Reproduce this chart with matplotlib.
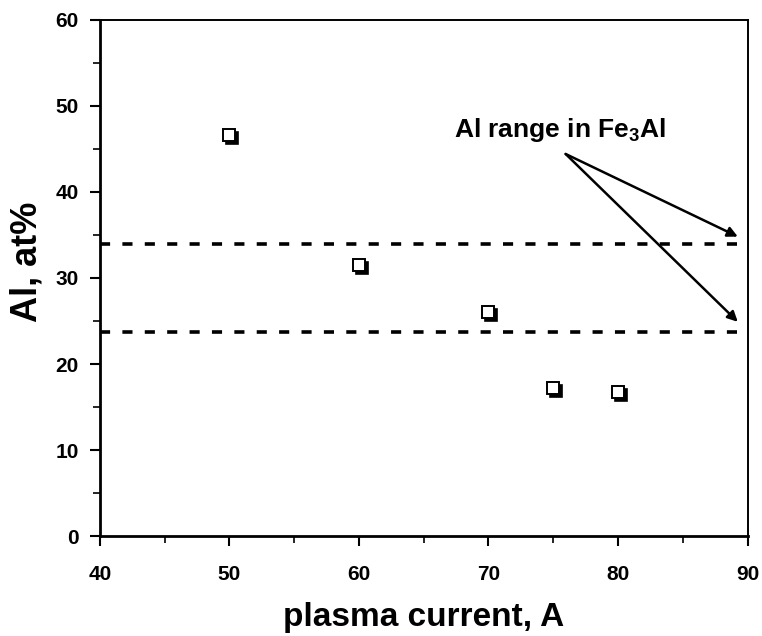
import matplotlib
matplotlib.use("Agg")
import matplotlib.pyplot as plt
import matplotlib.transforms as mtransforms
from matplotlib.ticker import MultipleLocator

plt.rcParams["font.family"] = "Liberation Sans"
plt.rcParams["font.weight"] = "bold"
plt.rcParams["mathtext.fontset"] = "custom"
plt.rcParams["mathtext.rm"] = "Liberation Sans:bold"
plt.rcParams["mathtext.bf"] = "Liberation Sans:bold"
plt.rcParams["mathtext.it"] = "Liberation Sans:bold"
plt.rcParams["mathtext.default"] = "bf"

# data
current = [50, 60, 70, 75, 80]
al_content = [46.6, 31.5, 26.0, 17.2, 16.8]
fe3al_range = [34.0, 23.7]
arrow_start = (75.96, 44.4)
arrow_ends = [(89.25, 34.8), (89.25, 24.9)]

fig = plt.figure(figsize=(7.62, 6.36), dpi=100)
ax = fig.add_axes([0.131, 0.157, 0.850, 0.812])

for y in fe3al_range:
    ax.axhline(y, color="black", linewidth=2.6, linestyle=(0, (2.8, 3.4)))

shadow = mtransforms.offset_copy(ax.transData, fig=fig, x=3, y=-3, units="dots")
ax.plot(current, al_content, linestyle="none", marker="s", markersize=9,
        markerfacecolor="black", markeredgecolor="black", markeredgewidth=1.2,
        transform=shadow)
ax.plot(current, al_content, linestyle="none", marker="s", markersize=9,
        markerfacecolor="white", markeredgecolor="black", markeredgewidth=1.4)

for end in arrow_ends:
    ax.annotate("", xy=end, xytext=arrow_start,
                arrowprops=dict(arrowstyle="-|>", color="black", lw=1.8,
                                mutation_scale=15, shrinkA=0, shrinkB=0))
ax.text(75.5, 47.2, "Al range in Fe$_3$Al", ha="center", va="center",
        fontsize=19, fontweight="bold")

ax.set_xlim(40, 90)
ax.set_ylim(0, 60)
ax.xaxis.set_major_locator(MultipleLocator(10))
ax.xaxis.set_minor_locator(MultipleLocator(5))
ax.yaxis.set_major_locator(MultipleLocator(10))
ax.yaxis.set_minor_locator(MultipleLocator(5))
ax.tick_params(which="major", length=7, width=1.5, labelsize=15)
ax.tick_params(axis="x", which="major", pad=14)
ax.tick_params(axis="y", which="major", pad=8)
ax.tick_params(which="minor", length=5, width=1.2)
for label in ax.get_xticklabels() + ax.get_yticklabels():
    label.set_fontweight("bold")
for side in ["left", "bottom"]:
    ax.spines[side].set_linewidth(2.0)
for side in ["top", "right"]:
    ax.spines[side].set_linewidth(1.4)

ax.set_xlabel("plasma current, A", fontsize=24, fontweight="bold", labelpad=13)
ax.set_ylabel("Al, at%", fontsize=26, fontweight="bold")
ax.yaxis.set_label_coords(-0.085, 0.531)

fig.savefig("out.png", dpi=100)
